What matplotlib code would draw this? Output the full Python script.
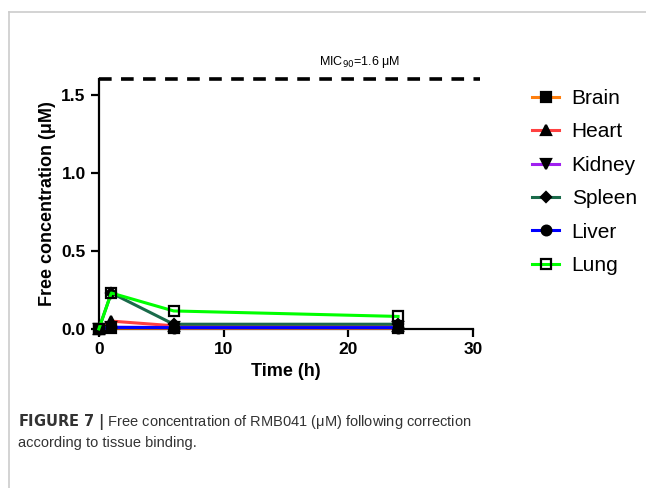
import matplotlib.pyplot as plt
from matplotlib.lines import Line2D

plt.rcParams['font.family'] = ['Liberation Sans', 'DejaVu Sans']

time = [0, 1, 6, 24]
brain = [0.0, 0.005, 0.004, 0.004]
heart = [0.0, 0.05, 0.02, 0.02]
kidney = [0.0, 0.01, 0.01, 0.01]
spleen = [0.0, 0.23, 0.03, 0.03]
liver = [0.0, 0.01, 0.008, 0.008]
lung = [0.0, 0.23, 0.115, 0.08]
mic90 = 1.6

names = ['Brain', 'Heart', 'Kidney', 'Spleen', 'Liver', 'Lung']
series = [brain, heart, kidney, spleen, liver, lung]
colors = ['#ff7f0e', '#ff4040', '#a020f0', '#1a6b4a', '#0000ff', '#00ff00']
markers = ['s', '^', 'v', 'D', 'o', 's']
msizes = [7, 7, 7, 5, 7, 7]

fig = plt.figure(figsize=(6.46, 4.88), dpi=100)
ax = fig.add_axes([0.153, 0.326, 0.579, 0.512])

for i in range(len(names)):
    face = 'none' if names[i] == 'Lung' else 'black'
    ax.plot(time, series[i], color=colors[i], lw=2.2, marker=markers[i],
            ms=msizes[i], mfc=face, mec='black', mew=1.6, label=names[i],
            clip_on=False, zorder=3 + i)

ax.plot([0, 30.6], [mic90, mic90], color='black', lw=2.6,
        dashes=(3.5, 2.6), clip_on=False)
ax.text(20.9, 1.655, 'MIC$_{90}$=1.6 μM', fontsize=9, ha='center', va='bottom')

ax.set_xlim(0, 30)
ax.set_ylim(0, 1.6)
ax.set_xticks([0, 10, 20, 30])
ax.set_yticks([0.0, 0.5, 1.0, 1.5])
ax.set_yticklabels(['0.0', '0.5', '1.0', '1.5'])
for s in ['top', 'right']:
    ax.spines[s].set_visible(False)
for s in ['left', 'bottom']:
    ax.spines[s].set_linewidth(1.6)
ax.tick_params(width=1.6, length=6, labelsize=12.5)
for lab in ax.get_xticklabels() + ax.get_yticklabels():
    lab.set_fontweight('bold')
ax.set_xlabel('Time (h)', fontsize=13, fontweight='bold')
ax.set_ylabel('Free concentration (μM)', fontsize=13, fontweight='bold')

ax.legend(loc='upper left', bbox_to_anchor=(1.108, 1.035), frameon=False,
          fontsize=15, handlelength=1.3, labelspacing=0.69, handletextpad=0.6)

# caption and frame
fig.add_artist(Line2D([0.014, 1.0], [0.975, 0.975], color='#cccccc', lw=1.2))
fig.add_artist(Line2D([0.014, 0.014], [0.0, 0.975], color='#cccccc', lw=1.2))
fig.text(0.028, 0.128, r'$\bf{FIGURE\ 7\ |}$ Free concentration of RMB041 (μM) following correction',
         fontsize=10.5, color='#333333')
fig.text(0.028, 0.083, 'according to tissue binding.', fontsize=10.5, color='#333333')

fig.savefig('out.png', dpi=100)
